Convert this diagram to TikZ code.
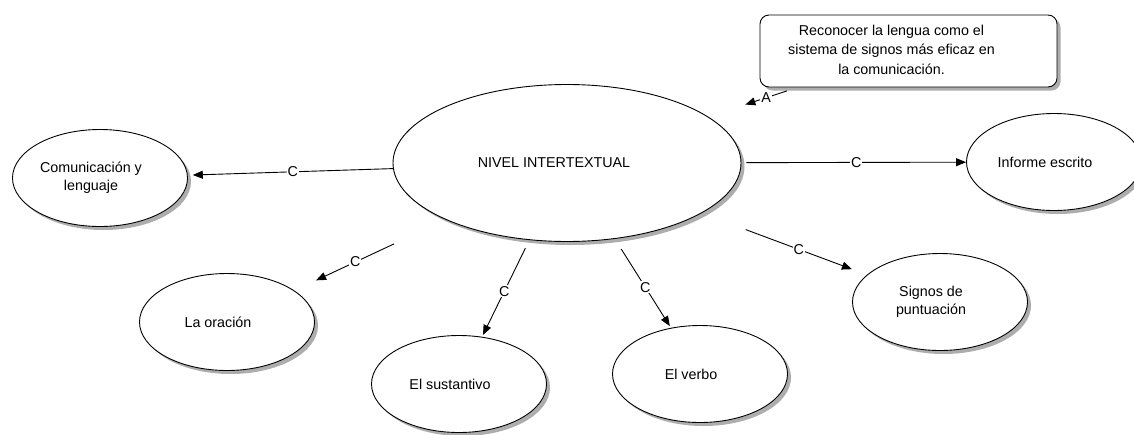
\documentclass[tikz,border=0pt]{standalone}
\usepackage{fontspec}
\setmainfont{Liberation Sans}
\usetikzlibrary{shapes.geometric,arrows.meta,shadows}
\newcommand{\stacked}[1]{\begin{tabular}{@{}c@{}}#1\end{tabular}}

\begin{document}
\begin{tikzpicture}[x=1pt,y=-1pt,
  every node/.style={font=\fontsize{14.3}{18}\selectfont},
  softshadow/.style={drop shadow={shadow xshift=3.5pt,shadow yshift=-3.5pt,fill=black!32,opacity=1}},
  bubble/.style={ellipse, draw, line width=0.9pt, fill=white, inner sep=0pt,
    minimum width=175pt, minimum height=97pt, softshadow},
  topic/.style={bubble, execute at end node={\hspace*{18pt}}},
  core/.style={bubble, execute at end node={\hspace*{26pt}}},
  note/.style={rectangle, rounded corners=9pt, draw, line width=0.9pt, fill=white,
    minimum width=297pt, minimum height=72pt, inner sep=0pt, softshadow,
    font=\fontsize{14.3}{19.5}\selectfont, execute at end node={\hspace*{34pt}}},
  link/.style={draw, line width=0.9pt, -{Triangle[length=10pt,width=8pt]}},
  tag/.style={fill=white, inner sep=1pt}]

\useasboundingbox (0,0) rectangle (1134,434);
\clip (0,0) rectangle (1134,434);

% central topic and its subtopics
\node[core, minimum width=348pt, minimum height=157pt] (nivel) at (567,163) {NIVEL INTERTEXTUAL};
\node[topic] (comm) at (100,178) {\stacked{Comunicación y\\lenguaje}};
\node[topic] (orac) at (227,322) {La oración};
\node[topic] (sust) at (459,384) {El sustantivo};
\node[topic] (verb) at (700,374) {El verbo};
\node[topic] (sign) at (940,302) {\stacked{Signos de\\puntuación}};
\node[topic] (info) at (1054,162) {Informe escrito};

% goal statement
\node[note] (goal) at (908.5,51) {\stacked{Reconocer la lengua como el\\sistema de signos más eficaz en\\la comunicación.}};

% connectors
\draw[link, shorten >=5pt] (nivel) -- node[tag, pos=0.488]{C} (comm);
\draw[link, shorten <=5pt] (nivel) -- node[tag, pos=0.511]{C} (info);
\draw[link, shorten <=47pt, shorten >=16pt] (nivel) -- node[tag, pos=0.587]{C} (sign);
\draw[link, shorten <=12pt, shorten >=2pt] (nivel) -- node[tag, pos=0.545]{C} (verb);
\draw[link, shorten <=9pt, shorten >=2pt] (nivel) -- node[tag, pos=0.53]{C} (sust);
\draw[link, shorten <=57pt, shorten >=24pt] (nivel) -- node[tag, pos=0.598]{C} (orac);
\draw[link, shorten <=11pt, shorten >=39pt] (goal) -- node[tag, pos=0.351]{A} (nivel);
\end{tikzpicture}
\end{document}
